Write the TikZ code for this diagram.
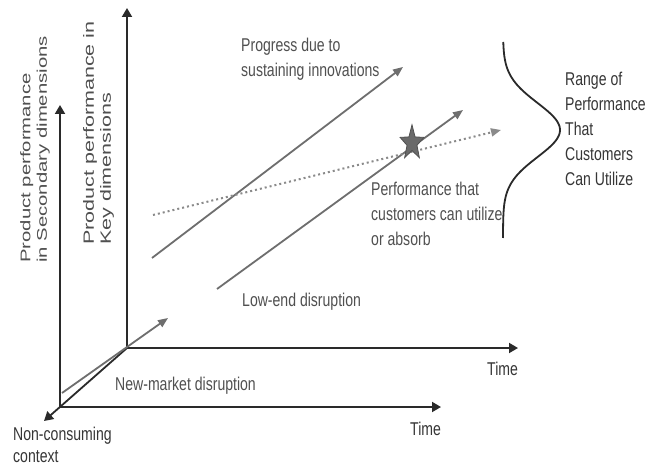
\documentclass[tikz,border=0pt]{standalone}
\usepackage{fontspec}
\newfontfamily\hfont{Liberation Sans}[FakeStretch=0.76]
\newfontfamily\vfont{Liberation Sans}
\usetikzlibrary{arrows.meta,shapes.geometric}
\definecolor{axiscol}{HTML}{2A2A2A}
\definecolor{linecol}{HTML}{6E6E6E}
\definecolor{dotcol}{HTML}{8A8A8A}
\definecolor{txtgray}{HTML}{505050}
\definecolor{txtdark}{HTML}{363636}
\definecolor{starfill}{HTML}{6A6A6A}
\begin{document}
\begin{tikzpicture}[x=1pt,y=-1pt,
  axis/.style={draw=axiscol, line width=1.8pt, -{Triangle[length=9pt,width=10pt]}},
  progline/.style={draw=linecol, line width=1.8pt, -{Triangle[length=10pt,width=8pt]}},
  dotline/.style={draw=dotcol, line width=2pt, dash pattern=on 2pt off 3pt, -{Triangle[length=10pt,width=8pt]}},
  bellline/.style={draw=axiscol, line width=1.8pt},
  lbl/.style={font=\hfont\fontsize{18.5}{25}\selectfont, text=txtgray, inner sep=0pt, align=left, anchor=north west},
  dlbl/.style={lbl, text=txtdark},
  vlbl/.style={font=\vfont\fontsize{20.3}{24}\selectfont, text=txtgray, inner sep=0pt, align=left, rotate=90, yscale=0.69, anchor=north west},
  vlblkey/.style={vlbl, font=\vfont\fontsize{21.5}{24.5}\selectfont}]
\useasboundingbox (0,0) rectangle (662,468);
\fill[white] (0,0) rectangle (662,468);

% axis coordinates
\coordinate (Ob) at (127,348);
\coordinate (Kt) at (127,8);
\coordinate (Tb) at (518,348);
\coordinate (Of) at (60,407);
\coordinate (St) at (60,105);
\coordinate (Tf) at (441,407);
\coordinate (Nc) at (44,421);
% trajectories
\coordinate (Nm0) at (62,393);  \coordinate (Nm1) at (168,318);
\coordinate (Su0) at (152,258); \coordinate (Su1) at (403,67);
\coordinate (Le0) at (217,289); \coordinate (Le1) at (463,110);
\coordinate (Pc0) at (153,215); \coordinate (Pc1) at (501,130);

% axes
\draw[axis] (Ob) -- (Kt);
\draw[axis] (Ob) -- (Tb);
\draw[axis] (Of) -- (St);
\draw[axis] (Of) -- (Tf);
\draw[axis] (Ob) -- (Nc);

% trajectories
\draw[progline] (Nm0) -- (Nm1);
\draw[progline] (Su0) -- (Su1);
\draw[progline] (Le0) -- (Le1);
\draw[dotline] (Pc0) -- (Pc1);

% star
\node[star, star points=5, star point ratio=2.4, minimum size=25pt, inner sep=0pt,
      yscale=1.45, fill=starfill, draw=txtgray, line width=0.8pt] (star) at (412,143) {};

% distribution curve
\draw[bellline] plot[domain=42:238, samples=120, variable=\t]
  ({503+57*exp(-0.5*((\t-130)/27)*((\t-130)/27))}, \t);

% labels
\node[vlbl] (ylab2) at (20,263) {Product performance\\in Secondary dimensions};
\node[vlblkey] (ylab1) at (83,245) {Product performance in\\Key dimensions};
\node[lbl] (prog) at (241,38) {Progress due to\\sustaining innovations};
\node[lbl] (perf) at (371,182) {Performance that\\customers can utilize\\or absorb};
\node[dlbl] (range) at (565,72) {Range of\\Performance\\That\\Customers\\Can Utilize};
\node[lbl] (low) at (242,293) {Low-end disruption};
\node[lbl] (newm) at (115,377) {New-market disruption};
\node[lbl, font=\hfont\fontsize{18.5}{22}\selectfont, text=txtdark] (noncon) at (13,427) {Non-consuming\\context};
\node[dlbl] (time1) at (487,362) {Time};
\node[dlbl] (time2) at (410,422) {Time};
\end{tikzpicture}
\end{document}
